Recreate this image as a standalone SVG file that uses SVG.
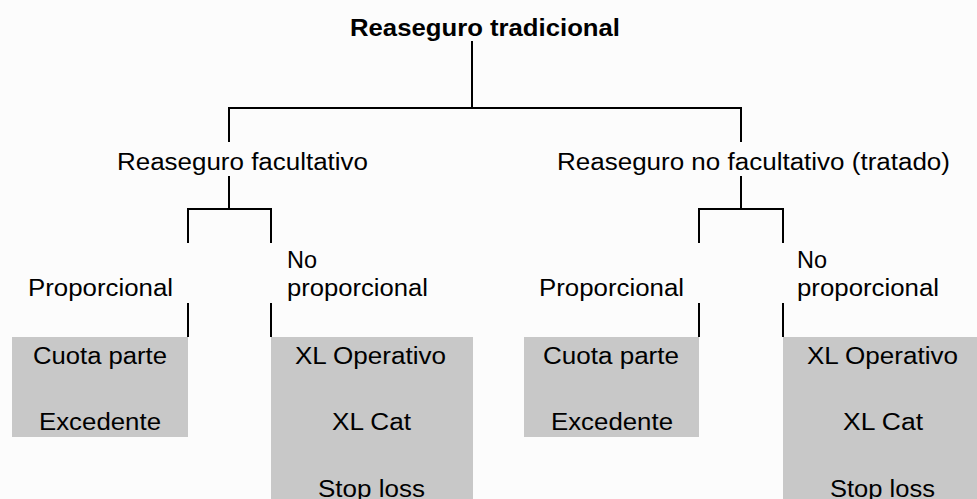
<svg xmlns="http://www.w3.org/2000/svg" width="977" height="499" viewBox="0 0 977 499">
<style>
text{font-family:"Liberation Sans",Arial,sans-serif;font-size:23px;fill:#000}
.b{font-weight:bold}
.box{fill:#c8c8c8}
.ln{stroke:#000;stroke-width:2;fill:none}
</style>
<rect width="977" height="499" fill="#fcfcfc"/>
<g id="connectors">
<path class="ln" d="M472 41V108M229 142V108H741V142"/>
<path class="ln" d="M229 176V209M188 243V209H271V243"/>
<path class="ln" d="M741 176V209M699 243V209H783V243"/>
<path class="ln" d="M188 303V337M271 303V337M699 303V337M783 303V337"/>
</g>
<g id="root"><text class="b" x="350" y="36" textLength="270" lengthAdjust="spacingAndGlyphs">Reaseguro tradicional</text></g>
<g id="facultativo"><text x="117" y="170" textLength="251" lengthAdjust="spacingAndGlyphs">Reaseguro facultativo</text></g>
<g id="tratado"><text x="557" y="170" textLength="393" lengthAdjust="spacingAndGlyphs">Reaseguro no facultativo (tratado)</text></g>
<g id="prop-left"><text x="28" y="296" textLength="145" lengthAdjust="spacingAndGlyphs">Proporcional</text></g>
<g id="noprop-left"><text x="287" y="268" textLength="30" lengthAdjust="spacingAndGlyphs">No</text><text x="287" y="296" textLength="141" lengthAdjust="spacingAndGlyphs">proporcional</text></g>
<g id="prop-right"><text x="539" y="296" textLength="145" lengthAdjust="spacingAndGlyphs">Proporcional</text></g>
<g id="noprop-right"><text x="797" y="268" textLength="30" lengthAdjust="spacingAndGlyphs">No</text><text x="797" y="296" textLength="142" lengthAdjust="spacingAndGlyphs">proporcional</text></g>
<g id="box-prop-left"><rect class="box" x="12" y="337" width="176" height="100"/>
<text x="33" y="364" textLength="134" lengthAdjust="spacingAndGlyphs">Cuota parte</text>
<text x="39" y="430" textLength="122" lengthAdjust="spacingAndGlyphs">Excedente</text></g>
<g id="box-noprop-left"><rect class="box" x="271" y="337" width="202" height="162"/>
<text x="295" y="364" textLength="151" lengthAdjust="spacingAndGlyphs">XL Operativo</text>
<text x="332" y="430" textLength="79" lengthAdjust="spacingAndGlyphs">XL Cat</text>
<text x="318" y="497" textLength="107" lengthAdjust="spacingAndGlyphs">Stop loss</text></g>
<g id="box-prop-right"><rect class="box" x="524" y="337" width="175" height="100"/>
<text x="543" y="364" textLength="136" lengthAdjust="spacingAndGlyphs">Cuota parte</text>
<text x="551" y="430" textLength="122" lengthAdjust="spacingAndGlyphs">Excedente</text></g>
<g id="box-noprop-right"><rect class="box" x="783" y="337" width="194" height="162"/>
<text x="807" y="364" textLength="151" lengthAdjust="spacingAndGlyphs">XL Operativo</text>
<text x="843" y="430" textLength="80" lengthAdjust="spacingAndGlyphs">XL Cat</text>
<text x="830" y="497" textLength="105" lengthAdjust="spacingAndGlyphs">Stop loss</text></g>
</svg>
